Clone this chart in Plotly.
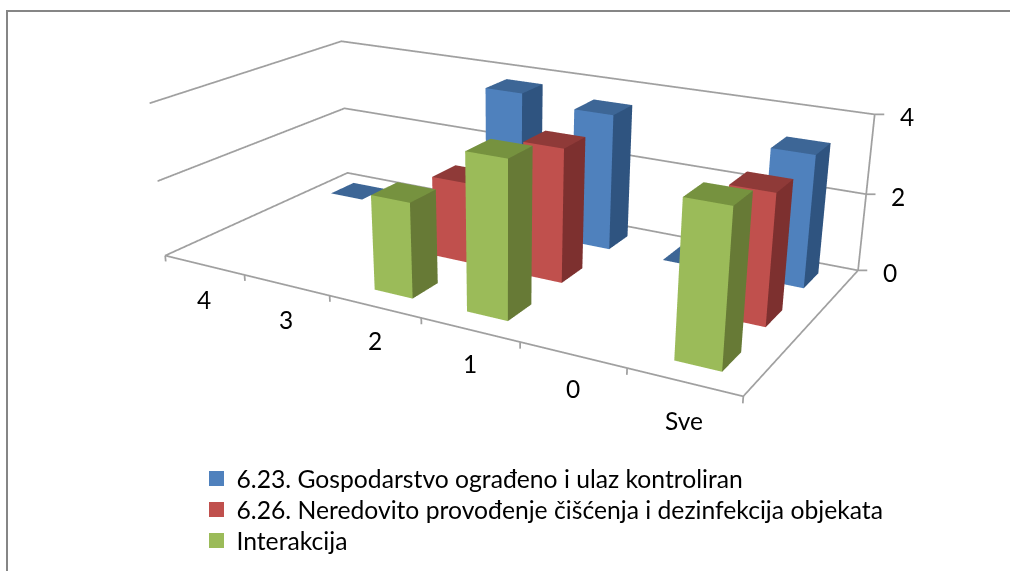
import plotly.graph_objects as go

categories = ["4", "3", "2", "1", "0", "Sve"]
s_names = ["6.23. Gospodarstvo ograđeno i ulaz kontroliran",
           "6.26. Neredovito provođenje čišćenja i dezinfekcija objekata",
           "Interakcija"]
blue = [0, None, 3.78, 3.57, 0, 3.35]
red = [None, None, 2.1, 3.4, None, 3.2]
green = [None, None, 2.4, 3.87, None, 3.7]
z_ticks = [0, 2, 4]

XR = [-0.5, 6.5]; YR = [-0.5, 3.5]; ZR = [-0.5, 4.5]
FW, FH = 2020, 1142
def PX(px): return (px+505)/FW
def PY(py): return 1-(py+285.5)/FH

ASPECT = dict(x=0.9865, y=0.5681, z=0.2705)
EYE = dict(x=0.8726, y=-1.5142, z=0.5886)
CENTER = dict(x=0.0424, y=-0.0787, z=-0.1050)

C_FRONT=["#4F81BD","#C0504D","#9BBB59"]; C_TOP=["#3D6696","#8F3A38","#76923F"]; C_SIDE=["#2F5480","#7D302F","#677A36"]
rows=[2.53,1.53,0.53]; W=0.42; D=0.42; XOFF=-0.015
fig=go.Figure()
leg=["legend","legend2","legend3"]
for si,vals in enumerate([blue,red,green]):
    xs=[];ys=[];zs=[];I=[];J_=[];K=[];cols=[]
    for ci,v in enumerate(vals):
        if v is None: continue
        x0,x1=ci+.5+XOFF-W/2,ci+.5+XOFF+W/2; y0,y1=rows[si]-D/2,rows[si]+D/2
        b=len(xs)
        for (a,bb,c) in [(x0,y0,0),(x1,y0,0),(x1,y1,0),(x0,y1,0),(x0,y0,v),(x1,y0,v),(x1,y1,v),(x0,y1,v)]:
            xs.append(a);ys.append(bb);zs.append(c)
        faces=[((4,5,6),C_TOP),((4,6,7),C_TOP)]
        if v>0:
            faces+=[((0,1,5),C_FRONT),((0,5,4),C_FRONT),((1,2,6),C_SIDE),((1,6,5),C_SIDE)]
        for f,cc in faces:
            I.append(b+f[0]);J_.append(b+f[1]);K.append(b+f[2]);cols.append(cc[si])
    fig.add_trace(go.Mesh3d(x=xs,y=ys,z=zs,i=I,j=J_,k=K,facecolor=cols,flatshading=True,
        lighting=dict(ambient=1,diffuse=0,specular=0,fresnel=0,roughness=1),hoverinfo="skip",showlegend=False))
    fig.add_trace(go.Scatter3d(x=[None],y=[None],z=[None],mode="markers",name=s_names[si],legend=leg[si],
        marker=dict(symbol="square",size=15,color=C_FRONT[si]),showlegend=True))

gx=[];gy=[];gz=[]
def seg(*pp):
    for p in pp:
        gx.append(p[0]);gy.append(p[1]);gz.append(p[2])
    gx.append(None);gy.append(None);gz.append(None)
for z in z_ticks:
    seg((0,0,z),(0,3,z),(6,3,z),(6.076,3.043,z))
seg((6,3,0),(6,3,4))
seg((0,0,0),(6,0,0),(6,3,0))
for i in range(7):
    seg((i,0,0),(i,0,-0.16))
fig.add_trace(go.Scatter3d(x=gx,y=gy,z=gz,mode="lines",line=dict(color="#A0A0A0",width=3.5),hoverinfo="skip",showlegend=False))

F=dict(family="Lato",size=24.5,color="#000000")
LF=dict(family="Lato",size=24.7,color="#000000")
ann=[dict(x=i+.5,y=0,z=0,text=c,showarrow=False,font=F,yshift=(-39 if c=="Sve" else -34)) for i,c in enumerate(categories)]
ann+=[dict(x=6,y=3,z=z,text=str(z),showarrow=False,font=F,xshift=32,yshift=-2) for z in z_ticks]
nv=dict(visible=False,showgrid=False,zeroline=False,showticklabels=False,showbackground=False)
def L(py):
    return dict(x=PX(196.5),y=PY(py),xanchor="left",yanchor="middle",bgcolor="rgba(0,0,0,0)",itemsizing="trace",font=LF)
fig.update_layout(width=FW,height=FH,margin=dict(l=0,r=0,t=0,b=0),paper_bgcolor="white",font=F,
    scene=dict(domain=dict(x=[0,1],y=[0,1]),xaxis=dict(range=XR,**nv),yaxis=dict(range=YR,**nv),zaxis=dict(range=ZR,**nv),
        aspectmode="manual",aspectratio=ASPECT,annotations=ann,
        camera=dict(eye=EYE,center=CENTER,up=dict(x=0,y=0,z=1),projection=dict(type="perspective"))),
    legend=L(478.5),legend2=L(509.5),legend3=L(540.5),
    shapes=[dict(type="line",xref="paper",yref="paper",x0=PX(7),x1=PX(7),y0=PY(580),y1=PY(10.5),line=dict(color="#868686",width=2)),
            dict(type="line",xref="paper",yref="paper",x0=PX(6),x1=PX(1020),y0=PY(10.5),y1=PY(10.5),line=dict(color="#868686",width=2))])
post="document.body.style.margin='0';document.documentElement.style.overflow='hidden';document.body.style.overflow='hidden';var g=document.querySelector('.plotly-graph-div');g.style.position='fixed';g.style.left='-505px';g.style.top='-285.5px';"
fig.write_html("out.html",post_script=post)
